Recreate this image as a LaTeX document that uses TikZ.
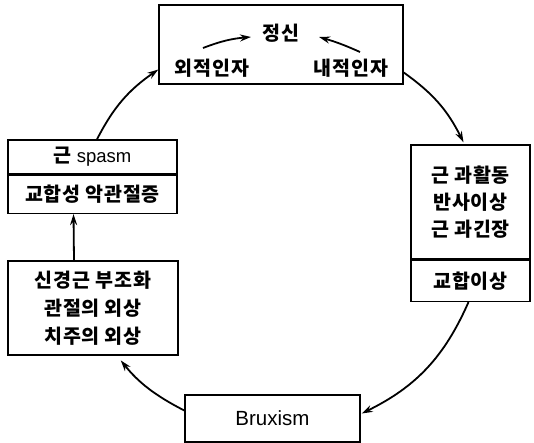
\documentclass[tikz,border=0pt]{standalone}
\usepackage{fontspec}
\setmainfont{Noto Sans CJK KR}[LetterSpace=4]
\newfontfamily\latinfont{Liberation Sans}
\usetikzlibrary{arrows.meta}
\begin{document}
\begin{tikzpicture}[x=1pt,y=-1pt,
  box/.style={draw,line width=1.4pt,inner sep=0pt,align=center,font=\fontsize{19.5}{27}\selectfont\bfseries},
  lbl/.style={inner sep=0pt,font=\fontsize{19.5}{27}\selectfont\bfseries},
  conn/.style={line width=1.8pt,-{Stealth[length=11pt,width=7pt]}}]
\useasboundingbox (0,0) rectangle (534,443);
% top box
\node[box,minimum width=244pt,minimum height=79pt] (top) at (281,44.5) {};
\node[lbl] (jeong) at (281,33) {정신};
\node[lbl] (ext) at (212,68) {외적인자};
\node[lbl] (int) at (351,68) {내적인자};
\coordinate (e1) at (203,48);
\coordinate (e2) at (251,37);
\coordinate (i1) at (360,52);
\coordinate (i2) at (319,37);
\draw[conn] (e1) to[bend left=8] (e2);
\draw[conn] (i1) to[bend right=4] (i2);
% left box (two parts)
\node[box,minimum width=169pt,minimum height=34pt] (spasm) at (92.5,157) {근 {\latinfont\mdseries\fontsize{18.5}{20}\selectfont spasm}};
\node[box,minimum width=169pt,minimum height=38pt,anchor=north] (tmj) at (spasm.south) {교합성 악관절증};
% right box (two parts)
\node[box,minimum width=119pt,minimum height=114pt] (rtop) at (470.5,202) {근 과활동\\반사이상\\근 과긴장};
\node[box,minimum width=119pt,minimum height=41pt,anchor=north] (occl) at (rtop.south) {교합이상};
% bottom-left box
\node[box,minimum width=170pt,minimum height=94pt,font=\fontsize{19.5}{28}\selectfont\bfseries] (neuro) at (93,308) {신경근 부조화\\관절의 외상\\치주의 외상};
% bruxism
\node[box,minimum width=175pt,minimum height=47pt,font=\latinfont\fontsize{20.5}{27}\selectfont] (brux) at (272.5,418.5) {Bruxism};
% cycle connectors
\draw[conn] ([xshift=4.5pt]spasm.north) to[bend left=14] ([yshift=-25pt]top.west);
\draw[conn] ([yshift=-28pt]top.east) to[bend left=14] ([xshift=-7pt,yshift=2pt]rtop.north);
\draw[conn] ([xshift=-2pt]occl.south) to[bend left=20] ([yshift=5pt,xshift=1pt]brux.east);
\draw[conn,shorten >=6pt] ([yshift=8pt]brux.west) to[bend left=12] ([xshift=24pt]neuro.south);
\draw[conn] ([xshift=-19pt]neuro.north) -- ([xshift=-19pt]tmj.south);
\end{tikzpicture}
\end{document}
